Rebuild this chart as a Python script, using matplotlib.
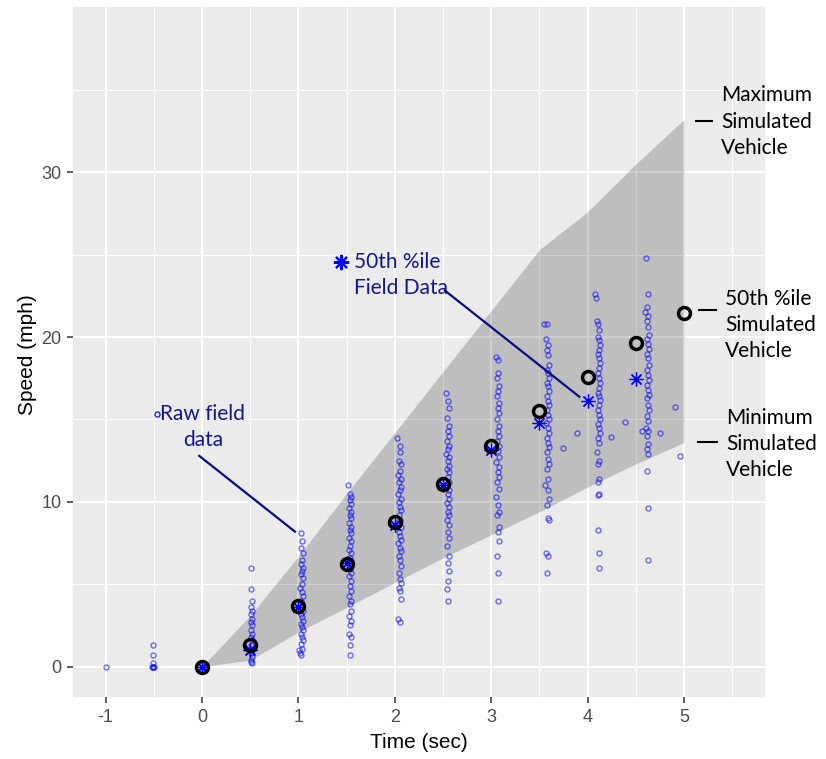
import matplotlib
matplotlib.use("Agg")
import matplotlib.pyplot as plt
from matplotlib.ticker import FixedLocator

plt.rcParams['axes.unicode_minus'] = False

# simulated vehicle envelope and median (per 0.5 s)
t_sim = [0, 0.5, 1, 1.5, 2, 2.5, 3, 3.5, 4, 4.5, 5]
sim_min = [0, 0.4, 2.1, 3.6, 5.1, 6.6, 8.0, 9.4, 10.9, 12.3, 13.6]
sim_max = [0, 3.1, 6.7, 10.5, 14.2, 17.9, 21.6, 25.3, 27.6, 30.5, 33.2]
sim_med = [0, 1.3, 3.65, 6.2, 8.75, 11.1, 13.4, 15.5, 17.6, 19.65, 21.45]

# median of field data
t_fld = [0, 0.5, 1, 1.5, 2, 2.5, 3, 3.5, 4, 4.5]
fld_med = [0, 1.0, 3.6, 6.3, 8.6, 11.0, 13.15, 14.8, 16.15, 17.45]

# raw field observations, one list pair per time step
tm_m1 = [-1.0]
sp_m1 = [0]
tm_m05 = [-0.52, -0.51, -0.50, -0.51, -0.51, -0.51, -0.51]
sp_m05 = [0, 0, 0, 0, 0.2, 0.7, 1.3]
tm_0 = [0.0, 0.01]
sp_0 = [0, 0]
tm_05 = [0.51, 0.51, 0.52, 0.51, 0.52, 0.51, 0.52, 0.51, 0.52, 0.51, 0.52,
         0.51, 0.52, 0.51, 0.52, 0.51, 0.52, 0.51, 0.52, 0.51, 0.52]
sp_05 = [6.0, 4.7, 4.0, 3.6, 3.4, 3.2, 2.9, 2.7, 2.5, 2.2, 2.0,
         1.8, 1.6, 1.3, 1.1, 0.85, 0.6, 0.4, 0.2, 0.3, 1.0]
tm_10 = [1.03, 1.04, 1.03, 1.05, 1.04, 1.03, 1.05, 1.04, 1.03, 1.05, 1.04,
         1.02, 1.04, 1.05, 1.03, 1.04, 1.05, 1.03, 1.04, 1.05, 1.03, 1.04,
         1.05, 1.03, 1.04, 1.05, 1.03, 1.04, 1.02, 1.03, 1.01]
sp_10 = [8.1, 7.6, 7.2, 6.9, 6.5, 6.2, 6.0, 5.8, 5.6, 5.4, 5.0,
         4.8, 4.5, 4.3, 4.0, 3.6, 3.4, 3.2, 3.0, 2.8, 2.6, 2.4,
         2.2, 2.0, 1.8, 1.6, 1.4, 1.1, 0.85, 0.7, 1.0]
tm_15 = [1.52, 1.54, 1.55, 1.54, 1.55, 1.53, 1.55, 1.54, 1.55, 1.53, 1.55,
         1.54, 1.55, 1.53, 1.55, 1.54, 1.53, 1.55, 1.54, 1.55, 1.53, 1.54,
         1.55, 1.53, 1.55, 1.54, 1.55, 1.53, 1.55, 1.54, 1.55, 1.53, 1.55,
         1.54, 1.53, 1.55, 1.54, 1.54]
sp_15 = [11.0, 10.5, 10.3, 10.1, 9.85, 9.6, 9.4, 9.2, 9.0, 8.7, 8.5,
         8.3, 8.1, 7.8, 7.6, 7.3, 7.1, 6.9, 6.6, 6.4, 6.2, 5.9,
         5.7, 5.5, 5.2, 4.9, 4.6, 4.3, 4.0, 3.8, 3.4, 3.1, 2.8,
         2.5, 2.0, 1.8, 1.3, 0.7]
tm_20 = [2.02, 2.05, 2.05, 2.04, 2.06, 2.05, 2.03, 2.06, 2.04, 2.06, 2.05,
         2.03, 2.06, 2.04, 2.05, 2.06, 2.04, 2.05, 2.03, 2.06, 2.04, 2.05,
         2.06, 2.03, 2.05, 2.06, 2.04, 2.05, 2.06, 2.04, 2.05, 2.06, 2.04,
         2.05, 2.06, 2.03, 2.05]
sp_20 = [13.9, 13.4, 13.0, 12.5, 12.3, 11.9, 11.6, 11.4, 11.2, 10.9, 10.7,
         10.5, 10.2, 10.0, 9.7, 9.5, 9.2, 8.9, 8.7, 8.5, 8.2, 7.9,
         7.7, 7.5, 7.2, 7.0, 6.7, 6.5, 6.1, 5.7, 5.3, 5.1, 4.8,
         4.6, 4.1, 2.9, 2.7]
tm_25 = [2.53, 2.55, 2.56, 2.54, 2.56, 2.55, 2.56, 2.54, 2.56, 2.55, 2.53,
         2.56, 2.55, 2.56, 2.54, 2.56, 2.55, 2.56, 2.53, 2.56, 2.55, 2.56,
         2.54, 2.56, 2.55, 2.56, 2.54, 2.56, 2.55, 2.56, 2.54, 2.56, 2.55,
         2.56, 2.55, 2.54, 2.55]
sp_25 = [16.6, 16.1, 15.7, 15.1, 14.6, 14.3, 14.0, 13.7, 13.4, 13.2, 12.9,
         12.7, 12.5, 12.2, 12.0, 11.8, 11.5, 11.2, 10.9, 10.7, 10.5, 10.2,
         9.9, 9.7, 9.4, 9.2, 8.9, 8.6, 8.2, 7.8, 7.3, 6.7, 6.3,
         5.8, 5.2, 4.7, 4.0]
tm_30 = [3.05, 3.07, 3.07, 3.06, 3.08, 3.07, 3.06, 3.08, 3.07, 3.08, 3.06,
         3.08, 3.07, 3.08, 3.06, 3.08, 3.07, 3.08, 3.05, 3.08, 3.07, 3.08,
         3.06, 3.08, 3.05, 3.07, 3.08, 3.06, 3.08, 3.07, 3.08, 3.06, 3.07,
         3.07]
sp_30 = [18.8, 18.6, 17.8, 17.5, 17.0, 16.7, 16.4, 16.0, 15.7, 15.4, 15.0,
         14.6, 14.3, 14.0, 13.7, 13.4, 13.1, 12.7, 12.4, 12.1, 11.8, 11.5,
         11.2, 10.8, 10.3, 9.8, 9.4, 9.2, 8.5, 8.2, 7.6, 6.7, 5.7,
         4.0]
tm_35 = [3.55, 3.58, 3.57, 3.59, 3.58, 3.59, 3.60, 3.58, 3.59, 3.60, 3.58,
         3.59, 3.60, 3.58, 3.59, 3.60, 3.58, 3.59, 3.60, 3.57, 3.59, 3.60,
         3.58, 3.59, 3.60, 3.58, 3.59, 3.60, 3.58, 3.59, 3.56, 3.59, 3.60,
         3.58, 3.59, 3.60, 3.57, 3.59, 3.58, 3.74, 3.89]
sp_35 = [20.8, 20.8, 19.9, 19.5, 19.2, 18.9, 18.3, 18.0, 17.8, 17.5, 17.2,
         17.0, 16.7, 16.4, 16.1, 15.9, 15.6, 15.3, 15.0, 14.8, 14.5, 14.2,
         13.9, 13.6, 13.3, 13.0, 12.6, 12.3, 12.0, 11.4, 11.0, 10.7, 10.2,
         9.8, 9.0, 8.9, 6.9, 6.7, 5.7, 13.25, 14.15]
tm_40 = [4.08, 4.09, 4.10, 4.11, 4.12, 4.11, 4.12, 4.13, 4.12, 4.11, 4.12,
         4.13, 4.12, 4.11, 4.12, 4.13, 4.12, 4.11, 4.12, 4.13, 4.12, 4.11,
         4.12, 4.13, 4.11, 4.12, 4.13, 4.11, 4.12, 4.10, 4.12, 4.11, 4.12,
         4.11, 4.12, 4.11, 4.11, 4.12, 4.12, 4.24, 4.39]
sp_40 = [22.6, 22.4, 21.0, 20.8, 20.4, 20.0, 19.8, 19.5, 19.2, 19.0, 18.7,
         18.4, 18.1, 17.8, 17.5, 17.2, 16.9, 16.6, 16.4, 16.2, 15.9, 15.6,
         15.3, 15.0, 14.7, 14.5, 14.2, 13.9, 13.6, 13.0, 12.5, 12.3, 11.4,
         11.2, 10.5, 10.4, 8.3, 6.9, 6.0, 13.95, 14.85]
tm_45 = [4.61, 4.63, 4.62, 4.60, 4.63, 4.62, 4.63, 4.64, 4.62, 4.63, 4.64,
         4.62, 4.63, 4.64, 4.62, 4.63, 4.64, 4.62, 4.63, 4.64, 4.62, 4.63,
         4.64, 4.62, 4.63, 4.61, 4.63, 4.62, 4.63, 4.62, 4.63, 4.62, 4.63,
         4.63, 4.56, 4.75, 4.91, 4.96]
sp_45 = [24.8, 22.6, 21.8, 21.5, 21.3, 21.0, 20.6, 20.1, 19.9, 19.6, 19.3,
         19.0, 18.7, 18.3, 18.0, 17.7, 17.4, 17.1, 16.8, 16.5, 16.3, 15.9,
         15.6, 15.2, 14.9, 14.5, 14.3, 14.0, 13.5, 13.2, 12.9, 11.9, 9.6,
         6.5, 14.3, 14.15, 15.75, 12.8]

raw_t = tm_m1 + tm_m05 + tm_0 + tm_05 + tm_10 + tm_15 + tm_20 + tm_25 + tm_30 + tm_35 + tm_40 + tm_45
raw_v = sp_m1 + sp_m05 + sp_0 + sp_05 + sp_10 + sp_15 + sp_20 + sp_25 + sp_30 + sp_35 + sp_40 + sp_45

x_major = [-1, 0, 1, 2, 3, 4, 5]
x_minor = [-0.5, 0.5, 1.5, 2.5, 3.5, 4.5, 5.5]
y_major = [0, 10, 20, 30]
y_minor = [5, 15, 25, 35]

fig = plt.figure(figsize=(8.26, 7.59), dpi=100)
ax = fig.add_axes([0.0887, 0.0813, 0.8374, 0.9095])
ax.set_facecolor('#EBEBEB')
for s in ax.spines.values():
    s.set_visible(False)

ax.set_xlim(-1.335, 5.84)
ax.set_ylim(-1.86, 40.03)
ax.xaxis.set_major_locator(FixedLocator(x_major))
ax.xaxis.set_minor_locator(FixedLocator(x_minor))
ax.yaxis.set_major_locator(FixedLocator(y_major))
ax.yaxis.set_minor_locator(FixedLocator(y_minor))
ax.set_axisbelow(True)
ax.grid(which='major', color='white', lw=1.45)
ax.grid(which='minor', color='white', lw=0.75)
ax.tick_params(which='major', length=4.5, width=1.1, color='#333333',
               labelcolor='#4D4D4D', labelsize=13, pad=4)
ax.tick_params(which='minor', length=0)
for lab in ax.get_xticklabels() + ax.get_yticklabels():
    lab.set_family('Liberation Sans')

ax.set_xlabel('Time (sec)', fontsize=15, family='Liberation Sans')
ax.set_ylabel('Speed (mph)', fontsize=15, family='Liberation Sans')
ax.xaxis.set_label_coords(0.5, -0.066)
ax.xaxis.label.set_va('center')
ax.yaxis.set_label_coords(-0.0655, 0.497)
ax.yaxis.label.set_va('center')

# envelope of simulated vehicles
ax.fill_between(t_sim, sim_min, sim_max, color='black', alpha=0.19, lw=0, zorder=1)

# raw data
ax.plot(raw_t, raw_v, ls='none', marker='o', ms=3.6, mfc='none', mec='#0000FF',
        mew=1.0, alpha=0.55, zorder=3)

# field median (asterisks) and simulated median (rings)
ax.plot(t_fld, fld_med, ls='none', marker=(8, 2, 0), ms=10, mec='#0000FF',
        mew=0.9, zorder=4)
ax.plot(t_sim, sim_med, ls='none', marker='o', ms=8.6, mfc='none', mec='black',
        mew=2.5, zorder=5)

# call-outs
txt_blue = '#16168C'
ann_font = 'Lato'
ax.plot([-0.467], [15.33], ls='none', marker='o', ms=3.6, mfc='none',
        mec='#2323E0', mew=1.0, zorder=6)
ax.text(0.01, 14.55, 'Raw field\ndata', ha='center', va='center', ma='center',
        fontsize=15, color=txt_blue, family=ann_font, linespacing=1.38)
ax.plot([-0.028, 0.965], [12.79, 8.19], color='#0A0A80', lw=1.6, zorder=6)

ax.plot([1.442], [24.56], ls='none', marker=(8, 2, 0), ms=11, mec='#0000FF',
        mew=1.5, zorder=6)
ax.text(1.577, 23.78, '50th %ile\nField Data', ha='left', va='center',
        fontsize=15, color=txt_blue, family=ann_font, linespacing=1.38)
ax.plot([2.52, 3.914], [22.82, 16.38], color='#0A0A80', lw=1.6, zorder=6)

# labels for the simulated envelope, right of the panel
for y_dash, x0, x1, y_txt, label in [
        (33.11, 5.125, 5.29, 33.08, 'Maximum\nSimulated\nVehicle'),
        (21.65, 5.155, 5.33, 20.73, '50th %ile\nSimulated\nVehicle'),
        (13.64, 5.145, 5.34, 13.51, 'Minimum\nSimulated\nVehicle')]:
    ax.plot([x0, x1], [y_dash, y_dash], color='black', lw=1.5, clip_on=False, zorder=6)
    ax.text(x1 + 0.095, y_txt, label, ha='left', va='center', fontsize=15,
            color='black', family=ann_font, linespacing=1.38, clip_on=False)

fig.savefig('out.png', dpi=100)
